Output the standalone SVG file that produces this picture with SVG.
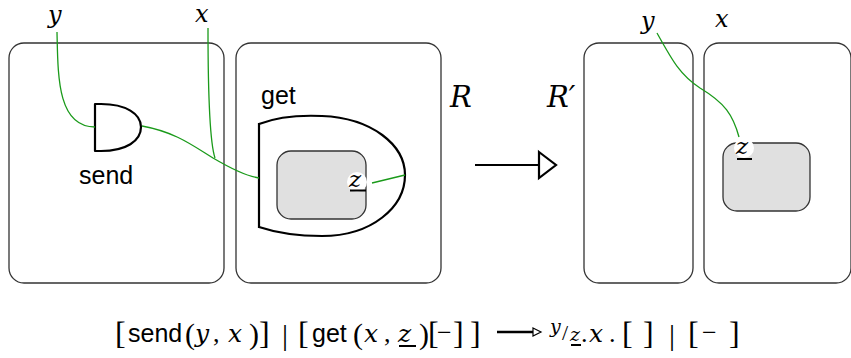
<svg xmlns="http://www.w3.org/2000/svg" width="851" height="358" viewBox="0 0 851 358">
<style>
.box{fill:#fff;stroke:#333;stroke-width:1.3}
.inner{fill:#e0e0e0;stroke:#333;stroke-width:1.3}
.wire{fill:none;stroke:#1a9a1a;stroke-width:1.3}
.shape{fill:none;stroke:#000;stroke-width:2.2;stroke-linejoin:round}
.m{font-family:"DejaVu Serif","Liberation Serif",serif;font-style:italic;fill:#000}
.r{font-family:"Liberation Serif","DejaVu Serif",serif;fill:#000}
.s{font-family:"Liberation Sans","DejaVu Sans",sans-serif;fill:#000}
.ul{stroke:#000;stroke-width:2}
</style>
<rect width="851" height="358" fill="#fff"/>
<g id="box1"><rect class="box" x="9" y="43" width="215" height="240" rx="15"/></g>
<g id="box2"><rect class="box" x="236" y="43" width="205" height="240" rx="15"/></g>
<g id="box3"><rect class="box" x="584" y="43" width="109" height="240" rx="15"/></g>
<g id="box4"><rect class="box" x="704" y="43" width="147" height="240" rx="15"/></g>
<g id="send">
<path class="shape" d="M 95 104 L 101 104 C 126 104 141 114 141 127 C 141 141 126 151 101 151 L 95 151 Z"/>
<text class="s" x="79" y="184" font-size="25">send</text>
</g>
<g id="get">
<path class="shape" d="M 259 124 C 277 117 300 115 322 116 C 372 118 405 145 405 175 C 405 207 372 236 322 236 C 300 236 277 233 259 227"/>
<line class="shape" x1="259" y1="123" x2="259" y2="228"/>
<text class="s" x="261" y="104" font-size="25">get</text>
</g>
<g id="inner1"><rect class="inner" x="277" y="151" width="89" height="68" rx="14"/></g>
<g id="inner2"><rect class="inner" x="723" y="143" width="87" height="68" rx="14"/></g>
<g id="connectors">
<path class="wire" d="M 57 32 C 58 75 57 127 95 127"/>
<path class="wire" d="M 142 126 C 175 132 192 145 213 158 C 230 168 245 176 259 178"/>
<path class="wire" d="M 208 28 C 208 90 209 140 215 158"/>
<path class="wire" d="M 372 183 L 405 175"/>
<path class="wire" d="M 657 33 C 672 60 680 75 700 88 C 725 103 733 115 739 137"/>
</g>
<g id="zlabel1">
<circle cx="357" cy="182" r="10" fill="#fff"/>
<text class="m" x="349" y="187" font-size="23">z</text>
<line class="ul" x1="350" y1="190.5" x2="366" y2="190.5"/>
</g>
<g id="zlabel2">
<circle cx="744" cy="148" r="10" fill="#fff"/>
<text class="m" x="736" y="154" font-size="23">z</text>
<line class="ul" x1="737" y1="159" x2="752" y2="159"/>
</g>
<g id="labels">
<text class="m" x="48" y="23" font-size="24">y</text>
<text class="m" x="195" y="22" font-size="24">x</text>
<text class="m" x="641" y="29" font-size="24">y</text>
<text class="m" x="715" y="27" font-size="24">x</text>
<text class="m" x="450" y="107" font-size="29">R</text>
<text class="m" x="547" y="107" font-size="29">R′</text>
</g>
<g id="arrow">
<line x1="475" y1="165" x2="539" y2="165" stroke="#000" stroke-width="2.2"/>
<path d="M 539 152 L 556 165 L 539 178 Z" fill="#fff" stroke="#000" stroke-width="2.2" stroke-linejoin="miter"/>
</g>
<g id="formula">
<text class="r" x="115" y="344" font-size="32">[</text>
<text class="s" x="128" y="342" font-size="25">send</text>
<text class="r" x="185" y="344" font-size="30">(</text>
<text class="m" x="195" y="342" font-size="25">y</text>
<text class="r" x="213" y="342" font-size="26">,</text>
<text class="m" x="228" y="342" font-size="25">x</text>
<text class="r" x="249" y="344" font-size="30">)</text>
<text class="r" x="259" y="344" font-size="32">]</text>
<text class="r" x="282" y="345" font-size="30">|</text>
<text class="r" x="298" y="344" font-size="32">[</text>
<text class="s" x="312" y="342" font-size="25">get</text>
<text class="r" x="353" y="344" font-size="30">(</text>
<text class="m" x="364" y="342" font-size="25">x</text>
<text class="r" x="384" y="342" font-size="26">,</text>
<text class="m" x="398" y="342" font-size="25">z</text>
<line class="ul" x1="399" y1="346" x2="416" y2="346"/>
<text class="r" x="419" y="344" font-size="30">)</text>
<text class="r" x="428" y="344" font-size="32">[</text>
<text class="r" x="437" y="341" font-size="26">−</text>
<text class="r" x="453" y="344" font-size="32">]</text>
<text class="r" x="470" y="344" font-size="32">]</text>
<line x1="497" y1="332" x2="533" y2="332" stroke="#000" stroke-width="2.4"/>
<path d="M 533 328 L 541 332 L 533 336 Z" fill="#fff" stroke="#000" stroke-width="1.2"/>
<text class="m" x="550" y="333" font-size="19">y</text>
<text class="r" x="562" y="340" font-size="22">/</text>
<text class="m" x="570" y="341" font-size="19">z</text>
<line class="ul" x1="571" y1="345" x2="581" y2="345"/>
<text class="r" x="581" y="342" font-size="26">.</text>
<text class="m" x="589" y="342" font-size="25">x</text>
<text class="r" x="609" y="342" font-size="26">.</text>
<text class="r" x="622" y="344" font-size="32">[</text>
<text class="r" x="643" y="344" font-size="32">]</text>
<text class="r" x="669" y="345" font-size="30">|</text>
<text class="r" x="688" y="344" font-size="32">[</text>
<text class="r" x="702" y="341" font-size="26">−</text>
<text class="r" x="729" y="344" font-size="32">]</text>
</g>
</svg>
